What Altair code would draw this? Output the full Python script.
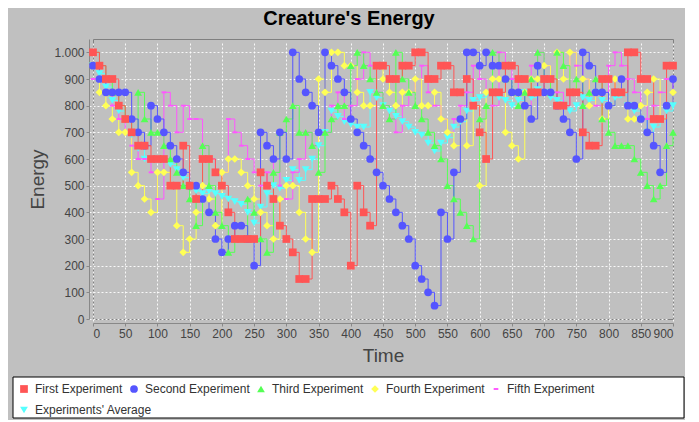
import altair as alt
import pandas as pd

TIME = list(range(0, 901, 10))
SERIES = ["First Experiment", "Second Experiment", "Third Experiment",
          "Fourth Experiment", "Fifth Experiment", "Experiments' Average"]
COLORS = ["#FF5555", "#5555FF", "#55FF55", "#FFFF55", "#FF55FF", "#55FFFF"]
SHAPES = ["square", "circle", "triangle-up", "diamond",
          "M-0.6,-0.25H0.6V0.25H-0.6Z", "triangle-down"]
X_TICKS = list(range(0, 901, 50))
Y_TICKS = [0, 100, 200, 300, 400, 500, 600, 700, 800, 900, 1000]

FIRST = [
    1000, 950, 900, 900, 800, 750, 700, 650, 650, 600,
    600, 600, 500, 500, 650, 500, 450, 600, 600, 550,
    500, 400, 300, 300, 300, 300, 550, 500, 450, 350,
    300, 250, 150, 150, 450, 450, 450, 500, 450, 400,
    200, 500, 400, 350, 950, 950, 900, 900, 950, 950,
    1000, 1000, 900, 900, 950, 950, 850, 850, 900, 800,
    700, 600, 850, 850, 950, 950, 900, 900, 850, 850,
    900, 900, 800, 800, 850, 850, 700, 650, 650, 900,
    900, 850, 850, 1000, 1000, 900, 900, 750, 750, 950,
    950]
SECOND = [
    950, 900, 850, 850, 850, 850, 750, 700, 650, 800,
    750, 700, 650, 600, 550, 500, 500, 450, 400, 300,
    250, 300, 350, 350, 300, 200, 700, 650, 600, 700,
    600, 1000, 900, 850, 800, 700, 1000, 950, 900, 850,
    750, 700, 650, 600, 550, 500, 450, 400, 350, 300,
    200, 150, 100, 50, 400, 300, 550, 750, 1000, 1000,
    950, 1000, 950, 950, 900, 850, 850, 800, 750, 950,
    850, 850, 800, 750, 700, 600, 1000, 950, 850, 850,
    800, 850, 900, 800, 800, 750, 700, 650, 550, 800,
    900]
THIRD = [
    1000, 950, 900, 850, 800, 750, 700, 850, 750, 700,
    700, 650, 600, 550, 500, 450, 350, 650, 500, 400,
    350, 250, 300, 300, 450, 400, 300, 250, 550, 700,
    750, 800, 700, 700, 650, 550, 700, 750, 800, 800,
    950, 1000, 950, 900, 850, 800, 750, 1000, 900, 850,
    800, 750, 700, 650, 600, 500, 450, 400, 350, 300,
    750, 800, 1000, 950, 900, 850, 800, 850, 900, 1000,
    900, 850, 1000, 950, 850, 900, 800, 850, 900, 750,
    700, 650, 650, 650, 600, 550, 500, 450, 500, 650,
    700]
FOURTH = [
    950, 850, 800, 750, 700, 700, 550, 500, 450, 400,
    550, 550, 500, 350, 250, 300, 400, 500, 450, 350,
    550, 600, 600, 550, 500, 450, 400, 350, 300, 450,
    500, 500, 400, 300, 250, 900, 850, 1000, 1000, 950,
    950, 850, 800, 800, 950, 900, 850, 800, 850, 850,
    900, 800, 800, 850, 750, 700, 650, 750, 650, 800,
    500, 850, 900, 900, 700, 650, 600, 850, 900, 900,
    950, 850, 1000, 900, 1000, 850, 900, 800, 850, 750,
    800, 900, 850, 750, 750, 800, 850, 900, 750, 800,
    850]
FIFTH = [
    900, 950, 850, 800, 750, 700, 650, 600, 600, 550,
    450, 850, 800, 700, 800, 750, 750, 650, 600, 550,
    550, 750, 700, 650, 600, 550, 500, 550, 600, 500,
    450, 550, 600, 700, 650, 700, 700, 800, 850, 750,
    800, 900, 1000, 950, 850, 800, 750, 700, 800, 850,
    900, 950, 850, 800, 750, 700, 750, 800, 850, 950,
    900, 850, 800, 1000, 950, 900, 850, 800, 950, 1000,
    950, 900, 850, 800, 1000, 950, 900, 850, 800, 850,
    950, 1000, 950, 900, 850, 800, 750, 800, 850, 900,
    850]
AVERAGE = [
    950, 920, 870, 820, 780, 750, 690, 640, 600, 600,
    600, 600, 580, 560, 530, 500, 480, 470, 480, 470,
    460, 450, 440, 430, 400, 360, 420, 470, 500, 490,
    520, 560, 520, 560, 600, 650, 700, 780, 760, 740,
    730, 720, 720, 850, 830, 800, 780, 760, 740, 720,
    700, 690, 660, 630, 660, 680, 720, 740, 780, 820,
    830, 840, 850, 830, 820, 800, 820, 850, 830, 860,
    850, 830, 820, 800, 780, 800, 830, 820, 850, 820,
    800, 830, 840, 800, 780, 750, 700, 720, 750, 780,
    800]

VALUES = [FIRST, SECOND, THIRD, FOURTH, FIFTH, AVERAGE]

rows = []
for name, vals in zip(SERIES, VALUES):
    for t, v in zip(TIME, vals):
        rows.append({"time": t, "energy": v, "series": name})
df = pd.DataFrame(rows)

EXPS = SERIES[:5]
color_scale = alt.Scale(domain=EXPS, range=COLORS[:5])
shape_scale = alt.Scale(domain=EXPS, range=SHAPES[:5])
avg_scale = alt.Scale(domain=SERIES[5:], range=COLORS[5:])

x_enc = alt.X("time:Q", scale=alt.Scale(domain=[0, 900], nice=False),
              axis=alt.Axis(values=X_TICKS, title="Time", grid=True))
y_enc = alt.Y("energy:Q", scale=alt.Scale(domain=[0, 1050], nice=False),
              axis=alt.Axis(values=Y_TICKS, title="Energy", grid=True,
                            labelExpr="datum.value == 1000 ? '1.000' : datum.label"))

LEG1 = alt.Legend(title="", orient="none", legendX=-75, legendY=344,
                  direction="horizontal", zindex=1)
LEG2 = alt.Legend(title="", orient="none", legendX=-75, legendY=365,
                  direction="horizontal", zindex=1, symbolType="triangle-down")

frame = alt.Chart(pd.DataFrame({"k": [0]})).mark_rect(
    fill="white", stroke="black", strokeWidth=1
).encode(x=alt.value(-80), x2=alt.value(591), y=alt.value(338), y2=alt.value(379))

line_layers = []
point_layers = []
for name, col in reversed(list(zip(SERIES, COLORS))):
    sub = df[df["series"] == name]
    line_layers.append(
        alt.Chart(sub).mark_line(interpolate="step-after", strokeWidth=1,
                                 color=col).encode(x=x_enc, y=y_enc)
    )
    if name in EXPS:
        point_layers.append(
            alt.Chart(sub).mark_point(filled=True, size=60, opacity=1).encode(
                x=x_enc, y=y_enc,
                color=alt.Color("series:N", scale=color_scale, legend=LEG1),
                shape=alt.Shape("series:N", scale=shape_scale, legend=LEG1),
            )
        )
    else:
        point_layers.append(
            alt.Chart(sub).mark_point(filled=True, size=60, opacity=1,
                                      shape="triangle-down").encode(
                x=x_enc, y=y_enc,
                fill=alt.Fill("series:N", scale=avg_scale, legend=LEG2),
            )
        )

chart = alt.layer(frame, *line_layers, *point_layers).properties(
    width=580, height=280,
    title=alt.TitleParams("Creature's Energy", font="Liberation Sans", fontSize=20,
                          fontWeight="bold", color="black", anchor="middle",
                          dx=-34, offset=10),
    padding={"left": 85, "top": 31, "right": 12, "bottom": 101},
    autosize=alt.AutoSizeParams(type="none"),
    background="#C0C0C0",
).configure_view(
    stroke="#808080", fill="#C0C0C0"
).configure_axis(
    labelFont="Liberation Sans", labelFontSize=12, labelColor="#444444",
    titleFont="Liberation Sans", titleFontSize=19, titleFontWeight="normal",
    titleColor="#444444", gridColor="white", gridDash=[2, 2], gridOpacity=0.9,
    domainColor="#888888", tickColor="#888888", tickSize=3, offset=4,
    labelPadding=2,
).configure_axisY(titlePadding=6).configure_axisX(titlePadding=7).configure_legend(
    labelFont="Liberation Sans", labelFontSize=12, labelColor="#333333",
    symbolSize=60, labelOffset=5, columnPadding=5, rowPadding=9, padding=0,
)

chart.save("out.html", embed_options={"renderer": "svg", "actions": False})
